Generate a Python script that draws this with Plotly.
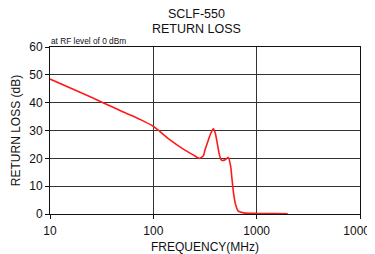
import plotly.graph_objects as go

freq_mhz = [10, 20, 32.6, 50, 75, 100, 116, 145, 195, 244, 278, 305, 316, 341, 360, 381,
            398, 410, 433, 452, 466, 500, 532, 561, 574, 600, 630, 665, 750, 1000, 1500, 2000]
return_loss_db = [48.5, 43.6, 40.0, 36.8, 33.9, 31.5, 29.6, 26.6, 23.3, 21.2, 20.0, 20.9, 23.0, 26.6, 29.0, 30.6,
                  29.0, 26.6, 21.8, 19.6, 19.2, 19.6, 20.3, 17.0, 13.4, 7.0, 3.0, 1.0, 0.4, 0.2, 0.15, 0.1]

x_tickvals = [10, 100, 1000, 10000]
x_ticktext = ["10", "100", "1000", "10000"]
y_tickvals = [0, 10, 20, 30, 40, 50, 60]
title_lines = ["SCLF-550", "RETURN LOSS"]

font = "Liberation Sans, Arial, sans-serif"

fig = go.Figure()
fig.add_trace(go.Scatter(
    x=freq_mhz, y=return_loss_db, mode="lines",
    line=dict(color="#ff1a1a", width=1.6, shape="spline", smoothing=0.6),
    hoverinfo="skip", showlegend=False,
))

annotations = [dict(text="at RF level of 0 dBm", x=0.0, y=1.0, xref="paper", yref="paper",
                    xanchor="left", yanchor="bottom", showarrow=False, xshift=-1, yshift=-1,
                    font=dict(family=font, size=8.3, color="#111"))]
for line, shift in zip(title_lines, [33, 18]):
    annotations.append(dict(text=line, x=0.473, y=1.0, xref="paper", yref="paper",
                            xanchor="center", yanchor="middle", showarrow=False, yshift=shift,
                            font=dict(family=font, size=12.5, color="#111")))

fig.update_layout(
    width=375, height=246,
    margin=dict(l=42, r=23, t=39, b=40, autoexpand=False),
    paper_bgcolor="white", plot_bgcolor="white",
    font=dict(family=font, size=12, color="#111"),
    xaxis=dict(type="log", range=[1, 4], tickvals=x_tickvals, ticktext=x_ticktext,
               showgrid=True, gridcolor="#333", gridwidth=1,
               showline=True, linecolor="#111", linewidth=1, mirror=True,
               ticks="outside", ticklen=4, tickcolor="#111",
               ticklabeloverflow="allow", ticklabelstandoff=2,
               tickfont=dict(family=font, size=12, color="#111"),
               title=dict(text="FREQUENCY(MHz)", standoff=7, font=dict(family=font, size=12, color="#111")),
               zeroline=False, automargin=False),
    yaxis=dict(range=[0, 60], tickvals=y_tickvals,
               showgrid=True, gridcolor="#333", gridwidth=1,
               showline=True, linecolor="#111", linewidth=1, mirror=True,
               ticks="outside", ticklen=4, tickcolor="#111",
               tickfont=dict(family=font, size=12, color="#111"),
               title=dict(text="RETURN LOSS (dB)", standoff=6, font=dict(family=font, size=12, color="#111")),
               zeroline=False, automargin=False),
    annotations=annotations,
)

fig.write_html("out.html")
